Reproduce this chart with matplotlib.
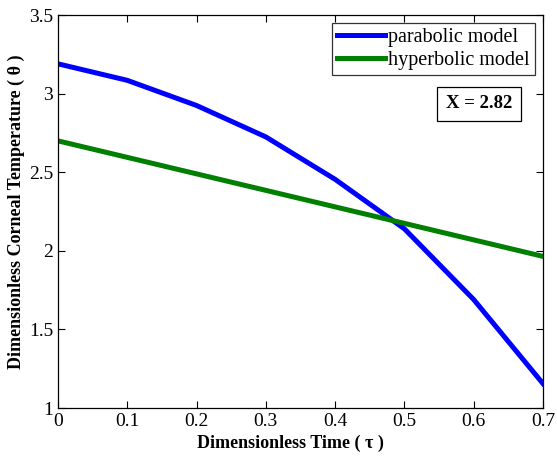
import matplotlib
matplotlib.use("Agg")
import matplotlib.pyplot as plt

time = [0.0, 0.1, 0.2, 0.3, 0.4, 0.5, 0.6, 0.7]
parabolic = [3.19, 3.085, 2.925, 2.725, 2.455, 2.14, 1.69, 1.155]
hyperbolic_t = [0.0, 0.7]
hyperbolic = [2.70, 1.965]
xticks = [0, 0.1, 0.2, 0.3, 0.4, 0.5, 0.6, 0.7]
xticklabels = ["0", "0.1", "0.2", "0.3", "0.4", "0.5", "0.6", "0.7"]
yticks = [1, 1.5, 2, 2.5, 3, 3.5]
yticklabels = ["1", "1.5", "2", "2.5", "3", "3.5"]

plt.rcParams['font.family'] = ['Liberation Serif', 'DejaVu Serif']

fig = plt.figure(figsize=(5.57, 4.57), dpi=100)
ax = fig.add_axes([0.104, 0.107, 0.871, 0.860])
ax.plot(time, parabolic, color='#0000ff', lw=3.6, label='parabolic model')
ax.plot(hyperbolic_t, hyperbolic, color='#007f00', lw=3.6, label='hyperbolic model')
ax.set_xlim(0, 0.7)
ax.set_ylim(1, 3.5)
ax.set_xticks(xticks)
ax.set_xticklabels(xticklabels)
ax.set_yticks(yticks)
ax.set_yticklabels(yticklabels)
ax.tick_params(direction='in', top=True, right=True, labelsize=14, length=5, width=0.8)
for s in ax.spines.values():
    s.set_linewidth(0.9)
ax.set_xlabel('Dimensionless Time ( τ )', fontsize=13, fontweight='bold')
ax.xaxis.set_label_coords(0.48, -0.068, transform=ax.transAxes)
ax.set_ylabel('Dimensionless Corneal Temperature ( θ )', fontsize=13, fontweight='bold', labelpad=3)
leg = ax.legend(loc='upper right', fontsize=14.5, frameon=True, fancybox=False,
                edgecolor='black', handlelength=2.4, handletextpad=0.15,
                borderpad=0.25, labelspacing=0.2, borderaxespad=0.4)
leg.get_frame().set_linewidth(0.9)
ax.text(0.868, 0.774, 'X = 2.82', transform=ax.transAxes, fontsize=13.5, fontweight='bold',
        ha='center', va='center',
        bbox=dict(boxstyle='square,pad=0.45', fc='white', ec='black', lw=0.9))
fig.savefig('out.png', dpi=100)
